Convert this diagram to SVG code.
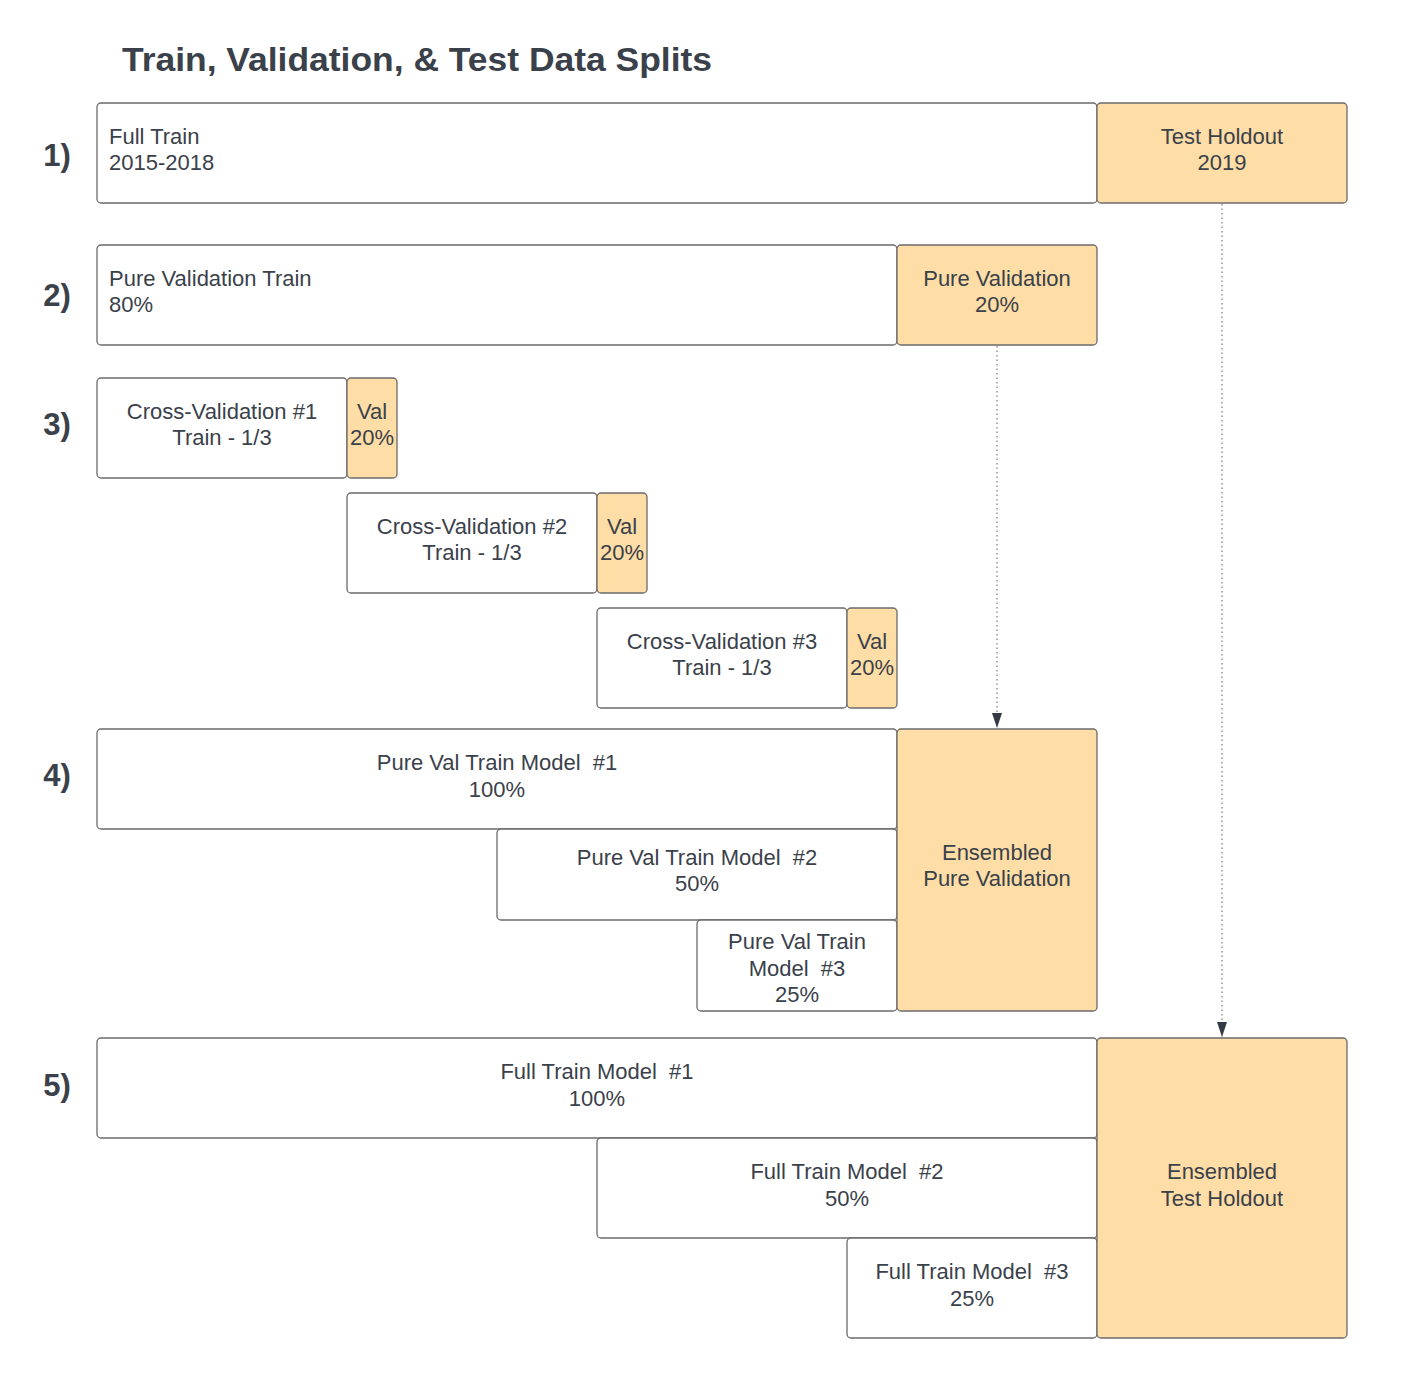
<svg xmlns="http://www.w3.org/2000/svg" width="1420" height="1399" viewBox="0 0 1420 1399">
<defs>
<style>
.w{fill:#ffffff;stroke:#6b6b6b;stroke-width:1.3}
.o{fill:#ffdda6;stroke:#6b6b6b;stroke-width:1.3}
.t{font-family:"Liberation Sans",Arial,sans-serif;font-size:22px;fill:#3a414a}
.c{text-anchor:middle}
.s{font-family:"Liberation Sans",Arial,sans-serif;font-size:31px;font-weight:bold;fill:#3a414a;text-anchor:middle}
.ln{fill:none;stroke:#7a7a7a;stroke-width:1.2;stroke-dasharray:1.5,3}
</style>
<marker id="ah" markerWidth="16" markerHeight="12" refX="15" refY="6" orient="auto" markerUnits="userSpaceOnUse" viewBox="0 0 16 12">
<path d="M0,1 L15,6 L0,11 Z" fill="#333a44"/>
</marker>
</defs>
<rect width="1420" height="1399" fill="#ffffff"/>
<text x="122" y="71" font-family="Liberation Sans,Arial,sans-serif" font-size="34" font-weight="bold" fill="#3a414a" textLength="590" lengthAdjust="spacingAndGlyphs">Train, Validation, &amp; Test Data Splits</text>
<g id="labels">
<text class="s" x="57" y="166">1)</text>
<text class="s" x="57" y="306">2)</text>
<text class="s" x="57" y="435">3)</text>
<text class="s" x="57" y="786">4)</text>
<text class="s" x="57" y="1096">5)</text>
</g>
<g id="connectors">
<line class="ln" x1="997" y1="346" x2="997" y2="728" marker-end="url(#ah)"/>
<line class="ln" x1="1222" y1="204" x2="1222" y2="1037" marker-end="url(#ah)"/>
</g>
<g id="full-train"><rect class="w" x="97" y="103" width="1000" height="100" rx="4"/><text class="t" x="109" y="144">Full Train</text><text class="t" x="109" y="170">2015-2018</text></g>
<g id="test-holdout"><rect class="o" x="1097" y="103" width="250" height="100" rx="4"/><text class="t c" x="1222" y="144">Test Holdout</text><text class="t c" x="1222" y="170">2019</text></g>
<g id="pure-val-train"><rect class="w" x="97" y="245" width="800" height="100" rx="4"/><text class="t" x="109" y="286">Pure Validation Train</text><text class="t" x="109" y="312">80%</text></g>
<g id="pure-val"><rect class="o" x="897" y="245" width="200" height="100" rx="4"/><text class="t c" x="997" y="286">Pure Validation</text><text class="t c" x="997" y="312">20%</text></g>
<g id="cv1"><rect class="w" x="97" y="378" width="250" height="100" rx="4"/><text class="t c" x="222" y="419">Cross-Validation #1</text><text class="t c" x="222" y="445">Train - 1/3</text></g>
<g id="cv1-val"><rect class="o" x="347" y="378" width="50" height="100" rx="4"/><text class="t c" x="372" y="419">Val</text><text class="t c" x="372" y="445">20%</text></g>
<g id="cv2"><rect class="w" x="347" y="493" width="250" height="100" rx="4"/><text class="t c" x="472" y="534">Cross-Validation #2</text><text class="t c" x="472" y="560">Train - 1/3</text></g>
<g id="cv2-val"><rect class="o" x="597" y="493" width="50" height="100" rx="4"/><text class="t c" x="622" y="534">Val</text><text class="t c" x="622" y="560">20%</text></g>
<g id="cv3"><rect class="w" x="597" y="608" width="250" height="100" rx="4"/><text class="t c" x="722" y="649">Cross-Validation #3</text><text class="t c" x="722" y="675">Train - 1/3</text></g>
<g id="cv3-val"><rect class="o" x="847" y="608" width="50" height="100" rx="4"/><text class="t c" x="872" y="649">Val</text><text class="t c" x="872" y="675">20%</text></g>
<g id="pv-model1"><rect class="w" x="97" y="729" width="800" height="100" rx="4"/><text class="t c" x="497" y="770" xml:space="preserve">Pure Val Train Model  #1</text><text class="t c" x="497" y="797">100%</text></g>
<g id="pv-model2"><rect class="w" x="497" y="829" width="400" height="91" rx="4"/><text class="t c" x="697" y="865" xml:space="preserve">Pure Val Train Model  #2</text><text class="t c" x="697" y="891">50%</text></g>
<g id="pv-model3"><rect class="w" x="697" y="920" width="200" height="91" rx="4"/><text class="t c" x="797" y="949">Pure Val Train</text><text class="t c" x="797" y="976" xml:space="preserve">Model  #3</text><text class="t c" x="797" y="1002">25%</text></g>
<g id="ens-pv"><rect class="o" x="897" y="729" width="200" height="282" rx="4"/><text class="t c" x="997" y="860">Ensembled</text><text class="t c" x="997" y="886">Pure Validation</text></g>
<g id="ft-model1"><rect class="w" x="97" y="1038" width="1000" height="100" rx="4"/><text class="t c" x="597" y="1079" xml:space="preserve">Full Train Model  #1</text><text class="t c" x="597" y="1106">100%</text></g>
<g id="ft-model2"><rect class="w" x="597" y="1138" width="500" height="100" rx="4"/><text class="t c" x="847" y="1179" xml:space="preserve">Full Train Model  #2</text><text class="t c" x="847" y="1206">50%</text></g>
<g id="ft-model3"><rect class="w" x="847" y="1238" width="250" height="100" rx="4"/><text class="t c" x="972" y="1279" xml:space="preserve">Full Train Model  #3</text><text class="t c" x="972" y="1306">25%</text></g>
<g id="ens-test"><rect class="o" x="1097" y="1038" width="250" height="300" rx="4"/><text class="t c" x="1222" y="1179">Ensembled</text><text class="t c" x="1222" y="1206">Test Holdout</text></g>
</svg>
